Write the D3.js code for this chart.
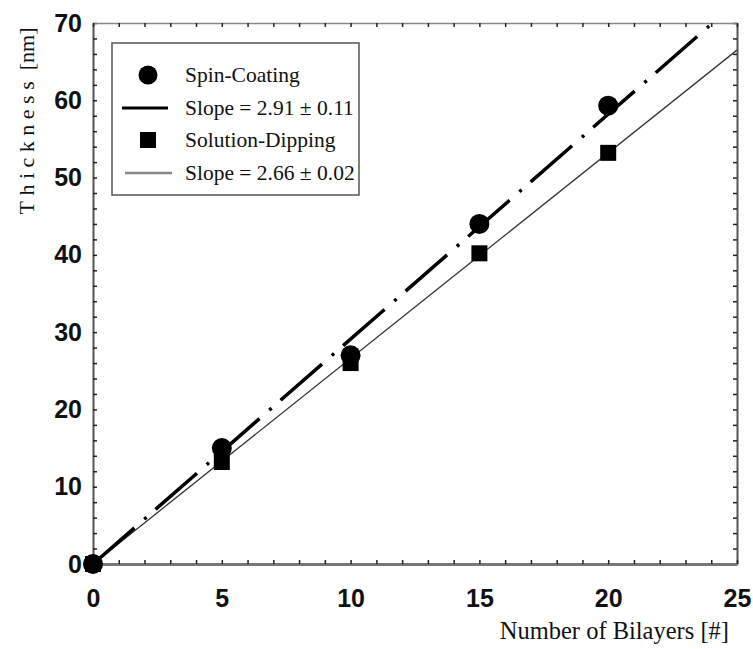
<!DOCTYPE html>
<html>
<head>
<meta charset="utf-8">
<script src="https://cdn.jsdelivr.net/npm/d3@7"></script>
<style>
  body { margin: 0; background: #fff; }
  .tick-label text { font-family: "Liberation Sans", Arial, sans-serif; font-weight: bold; font-size: 25px; fill: #111; }
  .serif { font-family: "Liberation Serif", "Times New Roman", serif; fill: #111; }
</style>
</head>
<body>
<div id="chart"></div>
<script>
// values
const bilayers = [0, 5, 10, 15, 20];
const spinCoating = [0, 15, 27, 44, 59.3];
const solutionDipping = [0, 13.2, 26, 40.2, 53.2];
const spinSlope = 2.91;
const dipSlope = 2.66;
const xTicks = [0, 5, 10, 15, 20, 25];
const yTicks = [0, 10, 20, 30, 40, 50, 60, 70];
const legendLabels = ["Spin-Coating", "Slope = 2.91 ± 0.11", "Solution-Dipping", "Slope = 2.66 ± 0.02"];

const margin = { top: 23, right: 16, bottom: 85, left: 93 };
const width = 753 - margin.left - margin.right;
const height = 649 - margin.top - margin.bottom;

const svg = d3.select("#chart").append("svg")
    .attr("width", 753)
    .attr("height", 649);

const plot = svg.append("g")
    .attr("transform", `translate(${margin.left},${margin.top})`);

const x = d3.scaleLinear().domain([0, 25]).range([0, width]);
const y = d3.scaleLinear().domain([0, 70]).range([height, 0]);

// minor ticks point inward on every side
function inward(axis, values) {
    return axis.tickValues(values).tickSize(-4).tickSizeOuter(0).tickFormat("");
}
plot.append("g").attr("class", "minor")
    .call(inward(d3.axisLeft(y), d3.range(0, 71, 2)));
plot.append("g").attr("class", "minor")
    .attr("transform", `translate(${width},0)`)
    .call(inward(d3.axisRight(y), d3.range(0, 71, 2)));
plot.append("g").attr("class", "minor")
    .attr("transform", `translate(0,${height})`)
    .call(inward(d3.axisBottom(x), d3.range(0, 26, 1)));
plot.append("g").attr("class", "minor")
    .call(inward(d3.axisTop(x), d3.range(0, 26, 1)));

plot.selectAll(".minor .tick line").attr("stroke", "#222").attr("stroke-width", 1.5);
plot.selectAll(".minor .domain").attr("stroke", "#555").attr("stroke-width", 2);
plot.select(".minor:nth-of-type(3) .domain").attr("stroke", "#777").attr("stroke-width", 3);
plot.select(".minor:nth-of-type(4) .domain").attr("stroke", "#888").attr("stroke-width", 1.5);

// tick labels
plot.append("g").attr("class", "tick-label")
    .call(d3.axisLeft(y).tickValues(yTicks).tickSize(0).tickPadding(11))
    .call(g => g.select(".domain").remove());
plot.append("g").attr("class", "tick-label")
    .attr("transform", `translate(0,${height})`)
    .call(d3.axisBottom(x).tickValues(xTicks).tickSize(0).tickPadding(25))
    .call(g => g.select(".domain").remove());
plot.selectAll(".tick-label text").attr("font-family", null).attr("font-size", null);

// axis titles
svg.append("text").attr("class", "serif")
    .attr("transform", "translate(34,121) rotate(-90)")
    .attr("text-anchor", "middle")
    .attr("font-size", 22)
    .call(t => {
        t.append("tspan").attr("letter-spacing", 5.5).text("Thickness");
        t.append("tspan").text(" [nm]");
    });

svg.append("text").attr("class", "serif")
    .attr("x", 729).attr("y", 639)
    .attr("text-anchor", "end")
    .attr("font-size", 24.5)
    .text("Number of Bilayers [#]");

// fit lines, clipped to the frame
plot.append("clipPath").attr("id", "clip")
    .append("rect").attr("width", width).attr("height", height);

const fitX = [0, 25];
const fit = slope => d3.line().x(d => x(d)).y(d => y(slope * d));

plot.append("path")
    .attr("clip-path", "url(#clip)")
    .attr("d", fit(dipSlope)(fitX))
    .attr("fill", "none")
    .attr("stroke", "#333")
    .attr("stroke-width", 1.3);

plot.append("path")
    .attr("clip-path", "url(#clip)")
    .attr("d", fit(spinSlope)(fitX))
    .attr("fill", "none")
    .attr("stroke", "#000")
    .attr("stroke-width", 3.5)
    .attr("stroke-dasharray", "55,13,3,12");

// markers
plot.selectAll(".dip").data(bilayers).join("rect")
    .attr("class", "dip")
    .attr("x", (d, i) => x(d) - 8)
    .attr("y", (d, i) => y(solutionDipping[i]) - 8)
    .attr("width", 16).attr("height", 16)
    .attr("fill", "#000");

plot.selectAll(".spin").data(bilayers).join("circle")
    .attr("class", "spin")
    .attr("cx", d => x(d))
    .attr("cy", (d, i) => y(spinCoating[i]))
    .attr("r", 10)
    .attr("fill", "#000");

// legend
const legend = svg.append("g").attr("transform", "translate(112,43)");
legend.append("rect")
    .attr("width", 247).attr("height", 152)
    .attr("fill", "#fff")
    .attr("stroke", "#555").attr("stroke-width", 1.5);

const rowY = [32, 65, 97, 130];
legend.append("circle").attr("cx", 36).attr("cy", rowY[0]).attr("r", 9.5).attr("fill", "#000");
legend.append("line").attr("x1", 10).attr("x2", 56).attr("y1", rowY[1]).attr("y2", rowY[1])
    .attr("stroke", "#000").attr("stroke-width", 3);
legend.append("rect").attr("x", 28).attr("y", rowY[2] - 8).attr("width", 16).attr("height", 16).attr("fill", "#000");
legend.append("line").attr("x1", 13).attr("x2", 60).attr("y1", rowY[3]).attr("y2", rowY[3])
    .attr("stroke", "#888").attr("stroke-width", 2.5);

legend.selectAll(".lbl").data(legendLabels).join("text")
    .attr("class", "lbl serif")
    .attr("x", 73)
    .attr("y", (d, i) => rowY[i] + 7)
    .attr("font-size", 21.5)
    .text(d => d);
</script>
</body>
</html>
